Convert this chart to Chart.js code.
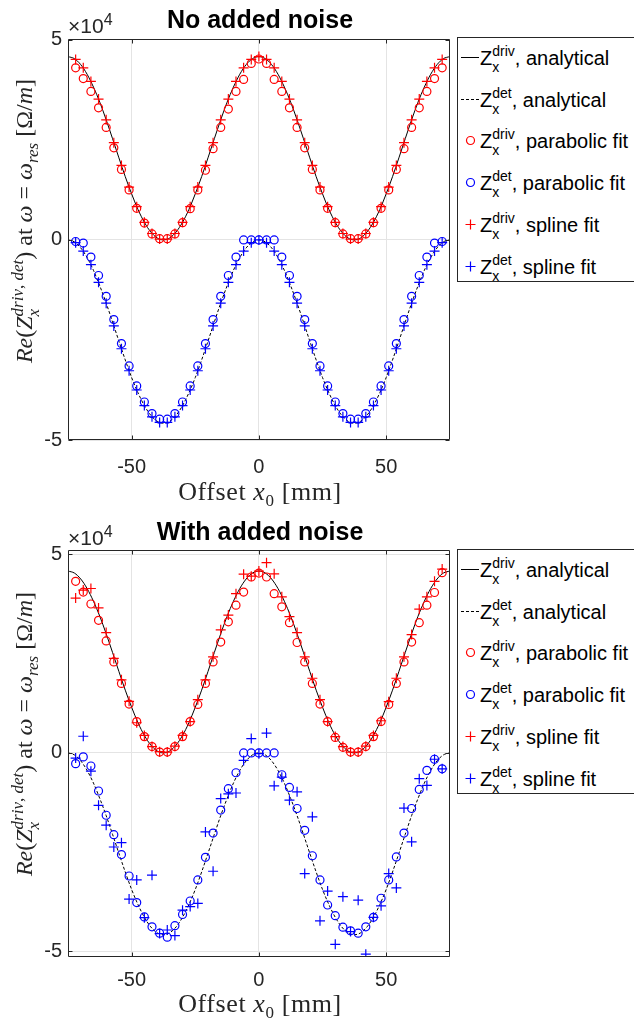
<!DOCTYPE html>
<html>
<head>
<meta charset="utf-8">
<script src="https://cdn.jsdelivr.net/npm/chart.js@4.4.0/dist/chart.umd.min.js"></script>
<style>
  html, body { margin: 0; padding: 0; background: #fff; }
  body { width: 634px; height: 1022px; overflow: hidden; position: relative;
         font-family: "Liberation Sans", Arial, sans-serif; color: #262626; }
  canvas { position: absolute; left: 0; }
  .title { position: absolute; font-weight: bold; font-size: 25px; line-height: 25px;
           color: #000; transform: translateX(-50%); white-space: nowrap; }
  .expo { position: absolute; left: 68px; font-size: 21px; line-height: 20px; white-space: nowrap; }
  .expo span { position: relative; top: -8px; font-size: 16px; }
  .math { position: absolute; font-family: "Liberation Serif", "Times New Roman", serif;
          font-size: 25px; line-height: 40px; white-space: nowrap; color: #262626; }
  .xlab { transform: translate(-50%, -50%); font-size: 26px; letter-spacing: 0.6px; }
  .ylab { transform: translate(-50%, -50%) rotate(-90deg); font-size: 24px; }
  .math .ms { display: inline-block; vertical-align: -7px; line-height: 16px; font-size: 17px; }
  .math .ms > span { display: block; }
  .math .lo { position: relative; top: 6px; font-size: 17px; }
  .legend { position: absolute; left: 457px; width: 190px; height: 243px;
            border: 1px solid #262626; background: #fff; }
  .row { position: absolute; left: 0; width: 190px; height: 40px; line-height: 40px;
         font-size: 20px; color: #000; white-space: nowrap; }
  .row svg { position: absolute; left: 2px; top: 0; }
  .row .txt { position: absolute; left: 22px; top: 0; }
  .row .ms { display: inline-block; vertical-align: -7px; line-height: 16px; font-size: 14px; }
  .row .ms > span { display: block; }
</style>
</head>
<body>

<canvas id="topChart" width="456" height="500" style="top:0"></canvas>
<canvas id="bottomChart" width="456" height="522" style="top:500px"></canvas>

<div class="title" style="left:260px; top:7px">No added noise</div>
<div class="title" style="left:260px; top:519px">With added noise</div>

<div class="expo" style="top:16px">×10<span>4</span></div>
<div class="expo" style="top:528px">×10<span>4</span></div>

<div class="math xlab" style="left:260px; top:493px">Offset <i>x</i><span class="lo">0</span> [mm]</div>
<div class="math xlab" style="left:260px; top:1005px">Offset <i>x</i><span class="lo">0</span> [mm]</div>

<div class="math ylab" style="left:25px; top:221px"><i>Re</i>(<i>Z</i><span class="ms"><span><i>driv</i>, <i>det</i></span><span><i>x</i></span></span>) at <i>ω</i> = <i>ω</i><span class="lo"><i>res</i></span> [Ω/<i>m</i>]</div>
<div class="math ylab" style="left:25px; top:734px"><i>Re</i>(<i>Z</i><span class="ms"><span><i>driv</i>, <i>det</i></span><span><i>x</i></span></span>) at <i>ω</i> = <i>ω</i><span class="lo"><i>res</i></span> [Ω/<i>m</i>]</div>

<div class="legend" id="legendTop" style="top:37px"></div>
<div class="legend" id="legendBottom" style="top:549px"></div>

<script>
'use strict';

// x positions (mm)
let xLine = [-75, -72.5, -70, -67.5, -65, -62.5, -60, -57.5, -55, -52.5, -50, -47.5, -45, -42.5, -40,
  -37.5, -35, -32.5, -30, -27.5, -25, -22.5, -20, -17.5, -15, -12.5, -10, -7.5, -5, -2.5, 0,
  2.5, 5, 7.5, 10, 12.5, 15, 17.5, 20, 22.5, 25, 27.5, 30, 32.5, 35, 37.5, 40, 42.5, 45, 47.5,
  50, 52.5, 55, 57.5, 60, 62.5, 65, 67.5, 70, 72.5, 75];
let xMarker = [-72, -69, -66, -63, -60, -57, -54, -51, -48, -45, -42, -39, -36, -33, -30, -27, -24,
  -21, -18, -15, -12, -9, -6, -3, 0, 3, 6, 9, 12, 15, 18, 21, 24, 27, 30, 33, 36, 39, 42, 45, 48,
  51, 54, 57, 60, 63, 66, 69, 72];

// values in units of 1e4 Ohm/m
let drivAnalytical = [4.58, 4.53, 4.38, 4.14, 3.82, 3.44, 3.00, 2.53, 2.05, 1.58, 1.15, 0.76, 0.44, 0.20, 0.05,
  0, 0.05, 0.20, 0.44, 0.76, 1.15, 1.58, 2.05, 2.53, 3.00, 3.44, 3.82, 4.14, 4.38, 4.53, 4.58,
  4.53, 4.38, 4.14, 3.82, 3.44, 3.00, 2.53, 2.05, 1.58, 1.15, 0.76, 0.44, 0.20, 0.05,
  0, 0.05, 0.20, 0.44, 0.76, 1.15, 1.58, 2.05, 2.53, 3.00, 3.44, 3.82, 4.14, 4.38, 4.53, 4.58];
let detAnalytical = [0, -0.05, -0.20, -0.44, -0.76, -1.15, -1.58, -2.05, -2.53, -3.00, -3.44, -3.82, -4.14, -4.38, -4.53,
  -4.58, -4.53, -4.38, -4.14, -3.82, -3.44, -3.00, -2.53, -2.05, -1.58, -1.15, -0.76, -0.44, -0.20, -0.05, 0,
  -0.05, -0.20, -0.44, -0.76, -1.15, -1.58, -2.05, -2.53, -3.00, -3.44, -3.82, -4.14, -4.38, -4.53,
  -4.58, -4.53, -4.38, -4.14, -3.82, -3.44, -3.00, -2.53, -2.05, -1.58, -1.15, -0.76, -0.44, -0.20, -0.05, 0];

// no added noise
let drivParabolic = [4.30, 4.03, 3.71, 3.30, 2.81, 2.30, 1.76, 1.25, 0.79, 0.42, 0.15, 0.03, 0.03, 0.15, 0.43,
  0.78, 1.25, 1.74, 2.28, 2.81, 3.27, 3.71, 4.01, 4.41, 4.52, 4.41, 4.01, 3.71, 3.30, 2.81, 2.30, 1.76,
  1.25, 0.79, 0.43, 0.15, 0.03, 0.03, 0.15, 0.43, 0.79, 1.25, 1.76, 2.28, 2.81, 3.30, 3.71, 4.03, 4.30];
let detParabolic = [-0.04, -0.08, -0.43, -0.89, -1.41, -1.99, -2.59, -3.15, -3.65, -4.05, -4.34, -4.48, -4.48,
  -4.34, -4.05, -3.65, -3.15, -2.59, -1.99, -1.41, -0.89, -0.43, 0, 0, 0, 0, 0, -0.43, -0.89, -1.41,
  -1.99, -2.59, -3.15, -3.65, -4.05, -4.34, -4.48, -4.48, -4.34, -4.05, -3.65, -3.15, -2.59, -1.99,
  -1.41, -0.89, -0.43, -0.08, -0.04];
let drivSpline = [4.51, 4.30, 3.96, 3.52, 3.00, 2.43, 1.86, 1.32, 0.83, 0.44, 0.16, 0.02, 0.02, 0.16, 0.44,
  0.83, 1.32, 1.86, 2.43, 3.00, 3.52, 3.96, 4.30, 4.51, 4.58, 4.51, 4.30, 3.96, 3.52, 3.00, 2.43, 1.86,
  1.32, 0.83, 0.44, 0.16, 0.02, 0.02, 0.16, 0.44, 0.83, 1.32, 1.86, 2.43, 3.00, 3.52, 3.96, 4.30, 4.51];
let detSpline = [-0.07, -0.28, -0.62, -1.06, -1.58, -2.15, -2.72, -3.27, -3.75, -4.14, -4.42, -4.56, -4.56,
  -4.42, -4.14, -3.75, -3.27, -2.72, -2.15, -1.58, -1.06, -0.62, -0.28, -0.07, 0, -0.07, -0.28, -0.62,
  -1.06, -1.58, -2.15, -2.72, -3.27, -3.75, -4.14, -4.42, -4.56, -4.56, -4.42, -4.14, -3.75, -3.27,
  -2.72, -2.15, -1.58, -1.06, -0.62, -0.28, -0.07];

// with added noise
let drivParabolicNoisy = [4.32, 4.05, 3.75, 3.34, 2.82, 2.29, 1.75, 1.23, 0.79, 0.41, 0.16, 0.02, 0.02, 0.16,
  0.41, 0.79, 1.22, 1.75, 2.29, 2.79, 3.30, 3.72, 4.05, 4.43, 4.53, 4.43, 4.01, 3.68, 3.28, 2.78, 2.29,
  1.75, 1.23, 0.79, 0.39, 0.14, 0.02, 0.02, 0.16, 0.41, 0.79, 1.22, 1.75, 2.29, 2.79, 3.28, 3.72, 4.04, 4.54];
let detParabolicNoisy = [-0.27, -0.10, -0.33, -0.96, -1.57, -2.06, -2.56, -3.10, -3.77, -4.13, -4.38, -4.54,
  -4.64, -4.35, -4.07, -3.73, -3.20, -2.63, -2.02, -1.44, -0.90, -0.50, 0, 0, 0, 0, 0, -0.55, -0.87,
  -1.40, -1.95, -2.59, -3.20, -3.83, -4.10, -4.39, -4.48, -4.54, -4.38, -4.14, -3.66, -3.20, -2.62,
  -2.02, -1.40, -0.92, -0.44, -0.16, -0.40];
let drivSplineNoisy = [3.90, 4.10, 4.14, 3.65, 3.03, 2.38, 1.84, 1.30, 0.76, 0.44, 0.16, 0.03, 0.02, 0.17,
  0.44, 0.79, 1.34, 1.84, 2.42, 3.10, 3.47, 4.01, 4.50, 4.45, 4.58, 4.79, 4.51, 3.93, 3.43, 3.03, 2.42,
  1.88, 1.34, 0.79, 0.41, 0.16, 0.02, 0.02, 0.17, 0.44, 0.81, 1.29, 1.88, 2.42, 2.98, 3.62, 3.93, 4.32, 4.63];
let detSplineNoisy = [-0.13, 0.42, -0.46, -1.32, -1.82, -2.37, -2.26, -3.68, -3.20, -4.15, -3.08, -4.55, -4.46,
  -4.60, -3.96, -3.87, -3.79, -1.99, -2.98, -1.15, -1.03, -1.01, -0.19, 0.36, -0.02, 0.50, -0.83, -0.61,
  -1.19, -0.98, -3.04, -1.61, -4.23, -3.48, -4.82, -3.62, -4.50, -3.71, -5.07, -4.14, -3.85, -3.04,
  -3.40, -1.39, -2.24, -0.65, -0.82, -0.16, -0.40];

let xTicks = [-50, 0, 50];
let yTicks = [-5, 0, 5];

let legendItems = [
  { sup: 'driv', label: ', analytical' },
  { sup: 'det', label: ', analytical' },
  { sup: 'driv', label: ', parabolic fit' },
  { sup: 'det', label: ', parabolic fit' },
  { sup: 'driv', label: ', spline fit' },
  { sup: 'det', label: ', spline fit' }
];

const RED = '#ff0000';
const BLUE = '#0000ff';
const AXIS = '#262626';
const tickFont = { family: "'Liberation Sans', Arial, sans-serif", size: 20 };

function points(xs, ys) {
  return xs.map((x, i) => ({ x: x, y: ys[i] }));
}

// axes box with inward tick marks, like matlab
const boxPlugin = {
  id: 'matlabBox',
  afterDraw(chart) {
    let ctx = chart.ctx;
    let a = chart.chartArea;
    let xs = chart.scales.x;
    let ys = chart.scales.y;
    let l = Math.round(a.left) + 0.5, r = Math.round(a.right) - 0.5;
    let t = Math.round(a.top) + 0.5, b = Math.round(a.bottom) - 0.5;
    ctx.save();
    ctx.strokeStyle = AXIS;
    ctx.lineWidth = 1;
    ctx.beginPath();
    ctx.rect(l, t, r - l, b - t);
    xs.ticks.forEach(function (tk) {
      let px = Math.round(xs.getPixelForValue(tk.value)) + 0.5;
      ctx.moveTo(px, b); ctx.lineTo(px, b - 4);
      ctx.moveTo(px, t); ctx.lineTo(px, t + 4);
    });
    ys.ticks.forEach(function (tk) {
      let py = Math.round(ys.getPixelForValue(tk.value)) + 0.5;
      ctx.moveTo(l, py); ctx.lineTo(l + 4, py);
      ctx.moveTo(r, py); ctx.lineTo(r - 4, py);
    });
    ctx.stroke();
    ctx.restore();
  }
};

function makeChart(id, s, cfg) {
  let datasets = [
    { data: points(xLine, s.drivLine), showLine: true, borderColor: '#000', borderWidth: 1,
      pointRadius: 0, cubicInterpolationMode: 'monotone', order: 6 },
    { data: points(xLine, s.detLine), showLine: true, borderColor: '#000', borderWidth: 1,
      borderDash: [3, 2], pointRadius: 0, cubicInterpolationMode: 'monotone', order: 5 },
    { data: points(xMarker, s.drivPara), pointStyle: 'circle', pointRadius: 4,
      borderColor: RED, backgroundColor: 'rgba(0,0,0,0)', borderWidth: 1.2, order: 4 },
    { data: points(xMarker, s.detPara), pointStyle: 'circle', pointRadius: 4,
      borderColor: BLUE, backgroundColor: 'rgba(0,0,0,0)', borderWidth: 1.2, order: 3 },
    { data: points(xMarker, s.drivSpl), pointStyle: 'cross', pointRadius: 5,
      borderColor: RED, borderWidth: 1.2, order: 2 },
    { data: points(xMarker, s.detSpl), pointStyle: 'cross', pointRadius: 5,
      borderColor: BLUE, borderWidth: 1.2, order: 1 }
  ];

  return new Chart(document.getElementById(id), {
    type: 'scatter',
    data: { datasets: datasets },
    options: {
      responsive: false,
      animation: false,
      devicePixelRatio: 1,
      events: [],
      layout: { padding: { left: 0, right: 4, top: cfg.top, bottom: 0 } },
      plugins: { legend: { display: false }, tooltip: { enabled: false }, title: { display: false } },
      scales: {
        x: {
          type: 'linear', min: -75, max: 75,
          afterBuildTicks: function (sc) { sc.ticks = xTicks.map(v => ({ value: v })); },
          afterFit: function (sc) { sc.height = cfg.xHeight; },
          ticks: { font: tickFont, color: AXIS, padding: cfg.xPad, maxRotation: 0,
                   callback: v => String(v) },
          grid: { color: '#e4e4e4', lineWidth: 1, drawTicks: false },
          border: { display: false }
        },
        y: {
          type: 'linear', min: cfg.yMin, max: cfg.yMax,
          afterBuildTicks: function (sc) { sc.ticks = yTicks.map(v => ({ value: v })); },
          afterFit: function (sc) { sc.width = 68; },
          ticks: { font: tickFont, color: AXIS, padding: 6, callback: v => String(v) },
          grid: { color: '#e4e4e4', lineWidth: 1, drawTicks: false },
          border: { display: false }
        }
      }
    },
    plugins: [boxPlugin]
  });
}

makeChart('topChart', {
  drivLine: drivAnalytical, detLine: detAnalytical,
  drivPara: drivParabolic, detPara: detParabolic,
  drivSpl: drivSpline, detSpl: detSpline
}, { top: 39, xHeight: 60, xPad: 15, yMin: -5, yMax: 5.02 });

makeChart('bottomChart', {
  drivLine: drivAnalytical, detLine: detAnalytical,
  drivPara: drivParabolicNoisy, detPara: detParabolicNoisy,
  drivSpl: drivSplineNoisy, detSpl: detSplineNoisy
}, { top: 50, xHeight: 65, xPad: 11, yMin: -5.14, yMax: 5.11 });

// legend with sub/superscripts
function swatch(i) {
  let color = (i % 2 === 0) ? RED : BLUE;
  if (i === 0) return '<line x1="1" y1="19.5" x2="19" y2="19.5" stroke="#000" stroke-width="1"/>';
  if (i === 1) return '<line x1="1" y1="19.5" x2="19" y2="19.5" stroke="#000" stroke-width="1" stroke-dasharray="3,2"/>';
  if (i < 4) return '<circle cx="10.5" cy="19.5" r="4" fill="none" stroke="' + color + '" stroke-width="1.2"/>';
  return '<path d="M5.5 19.5H15.5M10.5 14.5V24.5" stroke="' + color + '" stroke-width="1.2" fill="none"/>';
}

function buildLegend(id) {
  let box = document.getElementById(id);
  legendItems.forEach(function (item, i) {
    let row = document.createElement('div');
    row.className = 'row';
    row.style.top = (i * 41.7) + 'px';
    row.innerHTML = '<svg width="22" height="40">' + swatch(i) + '</svg>' +
      '<span class="txt">Z<span class="ms"><span>' + item.sup + '</span><span>x</span></span>' +
      item.label + '</span>';
    box.appendChild(row);
  });
}

buildLegend('legendTop');
buildLegend('legendBottom');
</script>
</body>
</html>
